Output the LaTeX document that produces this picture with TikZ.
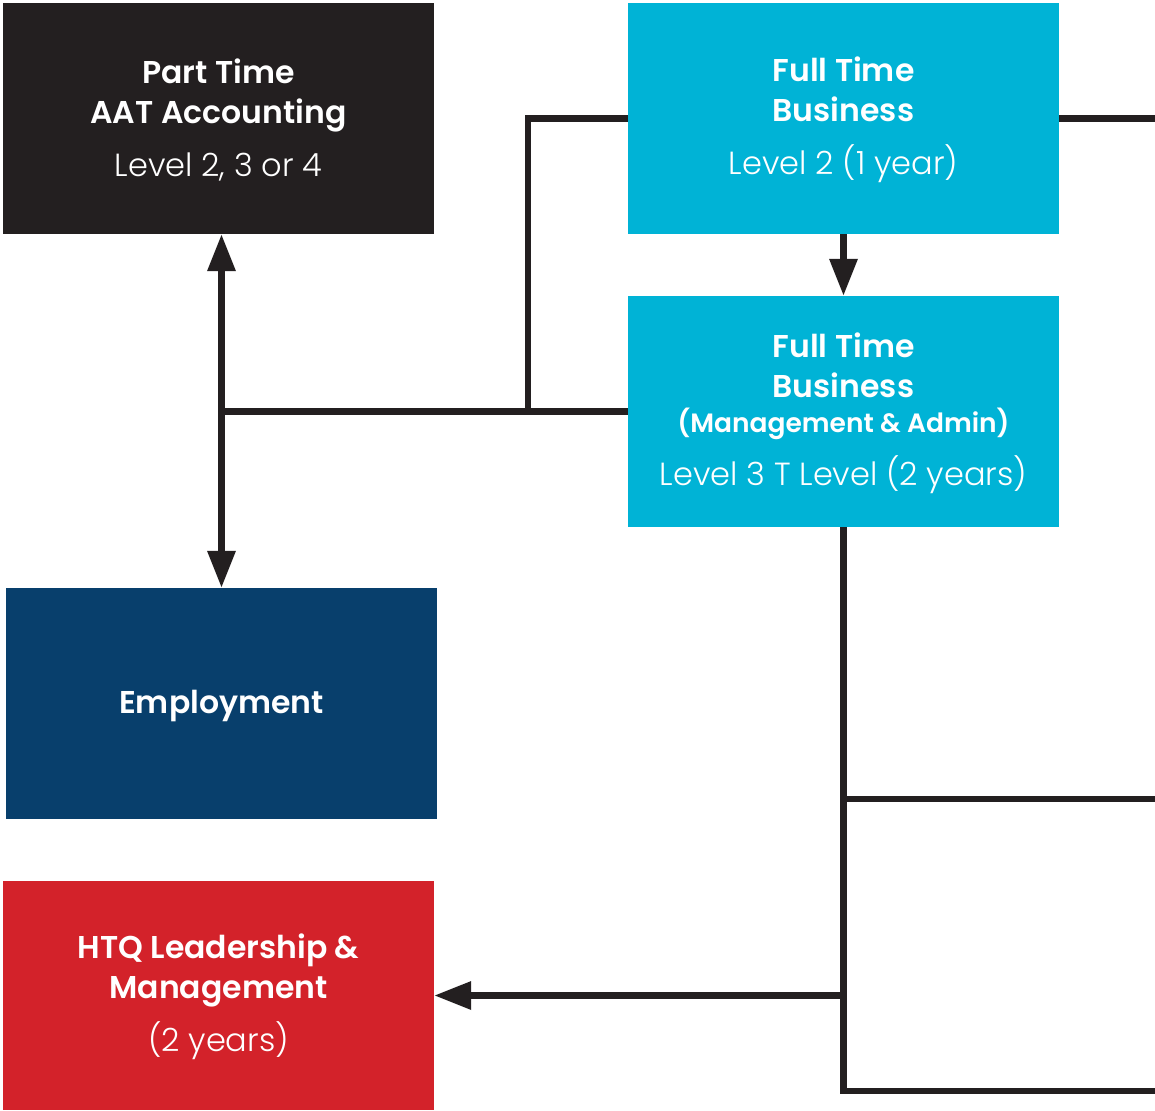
\documentclass[tikz,border=0pt]{standalone}
\usepackage{fontspec}
\setmainfont{Poppins}[BoldFont={Poppins SemiBold}]
\newfontfamily\lightf{Poppins Light}
\usetikzlibrary{arrows.meta}
\definecolor{aatc}{HTML}{231F20}
\definecolor{ftc}{HTML}{00B3D6}
\definecolor{empc}{HTML}{083F6C}
\definecolor{htqc}{HTML}{D3222A}
\definecolor{linec}{HTML}{231F20}
\newcommand{\lvl}{\lightf\fontsize{32}{40}\selectfont}
\newcommand{\tstrut}{\rule{0pt}{28pt}}
\begin{document}
\begin{tikzpicture}[x=1pt,y=-1pt,
  box/.style={draw=none, inner sep=0pt, minimum width=431pt, minimum height=231pt,
    text=white, align=center, font=\fontsize{31.5}{40}\selectfont},
  conn/.style={draw=linec, line width=6.5pt, line join=miter},
  tip/.style={-{Triangle[length=37pt,width=27pt]}}]
\useasboundingbox (0,0) rectangle (1155,1110);
\fill[white] (0,0) rectangle (1155,1110);
% boxes
\node[box, fill=aatc] (aat) at (218.5,118.5)
  {\tstrut\bfseries Part Time\\\bfseries AAT Accounting\\[13pt]\lvl Level 2, 3 or 4};
\node[box, fill=ftc] (ft1) at (843.5,118.5)
  {\tstrut\bfseries Full Time\\\bfseries Business\\[13pt]\lvl Level 2 (1 year)};
\node[box, fill=ftc] (ft2) at (843.5,411.5)
  {\tstrut\bfseries Full Time\\\bfseries Business\\[-5pt]\bfseries\fontsize{26.5}{40}\selectfont (Management \& Admin)\\[13pt]\lvl Level 3 T Level (2 years)};
\node[box, fill=empc] (emp) at (221.5,703.5) {\tstrut\bfseries Employment};
\node[box, fill=htqc, minimum height=229pt] (htq) at (218.5,995.5)
  {\tstrut\bfseries HTQ Leadership \&\\\bfseries Management\\[13pt]\lvl (2 years)};
% junction coordinates
\coordinate (j1) at (528,411.5);
\coordinate (redge) at (1155,0);
\coordinate (b1) at (843.5,799);
\coordinate (b2) at (843.5,995.5);
\coordinate (b3) at (843.5,1091);
% connectors
\draw[conn, {Triangle[length=37pt,width=27pt]}-{Triangle[length=37pt,width=27pt]}] (emp.north |- aat.south) -- (emp.north);
\draw[conn] (ft2.west) -- (ft2.west -| emp.north);
\draw[conn] (ft1.west) -- (ft1.west -| j1) -- (j1);
\draw[conn, tip] (ft1.south) -- (ft2.north);
\draw[conn] (ft1.east) -- (ft1.east -| redge);
\draw[conn] (ft2.south) -- (b3) -- (b3 -| redge);
\draw[conn] (b1) -- (b1 -| redge);
\draw[conn, tip] (b2) -- (htq.east);
\end{tikzpicture}
\end{document}
